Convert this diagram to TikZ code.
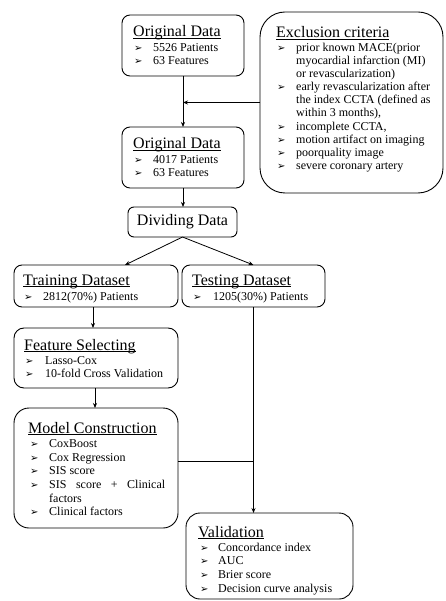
\documentclass[tikz,border=0pt]{standalone}
\usepackage{fontspec}
\setmainfont{Liberation Serif}
\newfontfamily\dvfont{DejaVu Sans}
\usetikzlibrary{arrows.meta}
\newlength\ulw
\newcommand\ulx[1]{\settowidth\ulw{#1}\rlap{\rule[-2pt]{\ulw}{0.7pt}}#1}
\newcommand\bul{{\dvfont\fontsize{10}{10}\selectfont ➢}}
% box: name, x1, y1, x2, y2, radius
\newcommand\mkbox[6]{\node[box, rounded corners=#6pt, minimum width={(#4-#2)*1pt}, minimum height={(#5-#3)*1pt}] (#1) at ({(#2+#4)/2},{(#3+#5)/2}) {};}
% title: name, x, baseline, text
\newcommand\mkttl[4]{\node[ttl] (#1) at (#2,#3) {\ulx{#4}};}
% item: name, bullet x, text x, baseline, text
\newcommand\mkitm[5]{\node[itm] (#1) at (#2,#4) {\makebox[\dimexpr#3pt-#2pt\relax][l]{\bul}#5};}
% continuation: name, x, baseline, text
\newcommand\mkcont[4]{\node[itm] (#1) at (#2,#3) {#4};}
\begin{document}
\begin{tikzpicture}[x=1pt,y=-1pt,
  box/.style={draw, line width=0.9pt, inner sep=0pt, outer sep=0pt},
  ttl/.style={anchor=base west, inner sep=0pt, font=\fontsize{16}{18}\selectfont},
  itm/.style={anchor=base west, inner sep=0pt, font=\fontsize{12}{13}\selectfont},
  arr/.style={line width=0.8pt, -{Stealth[length=5pt,width=4pt]}},
  ln/.style={line width=0.8pt}]
\useasboundingbox (0,0) rectangle (446,601);

% Original data 1
\mkbox{b1}{122}{15}{244}{76}{8}
\mkttl{b1t}{133}{37}{Original Data}
\mkitm{b1a}{134}{153}{52}{5526 Patients}
\mkitm{b1b}{134}{153}{65}{63 Features}

% Exclusion criteria
\mkbox{ex}{260}{12}{443}{193}{25}
\mkttl{ext}{276}{38}{Exclusion criteria}
\mkitm{exa}{277}{296}{52}{prior known MACE(prior}
\mkcont{exa2}{296}{65}{myocardial infarction (MI)}
\mkcont{exa3}{296}{78}{or revascularization)}
\mkitm{exb}{277}{296}{91}{early revascularization after}
\mkcont{exb2}{296}{104}{the index CCTA (defined as}
\mkcont{exb3}{296}{117}{within 3 months),}
\mkitm{exc}{277}{296}{131}{incomplete CCTA,}
\mkitm{exd}{277}{296}{144}{motion artifact on imaging}
\mkitm{exe}{277}{296}{157}{poorquality image}
\mkitm{exf}{277}{296}{170}{severe coronary artery}

% Original data 2
\mkbox{b2}{122}{127}{244}{188}{8}
\mkttl{b2t}{133}{149}{Original Data}
\mkitm{b2a}{134}{153}{164}{4017 Patients}
\mkitm{b2b}{134}{153}{177}{63 Features}

% Dividing data
\node[box, rounded corners=6pt, minimum width=109pt, minimum height=30pt,
      font=\fontsize{16}{18}\selectfont] (dv) at (182.5,222) {Dividing Data};

% Training
\mkbox{tr}{14}{265}{178}{307}{8}
\mkttl{trt}{23}{285}{Training Dataset}
\mkitm{tra}{24}{43}{300}{2812(70\%) Patients}

% Testing
\mkbox{te}{182}{265}{325}{307}{8}
\mkttl{tet}{192}{285}{Testing Dataset}
\mkitm{tea}{193}{213}{300}{1205(30\%) Patients}

% Feature selecting
\mkbox{fs}{14}{328}{178}{388}{10}
\mkttl{fst}{24}{350}{Feature Selecting}
\mkitm{fsa}{25}{45}{364}{Lasso-Cox}
\mkitm{fsb}{25}{45}{377}{10-fold Cross Validation}

% Model construction
\mkbox{mc}{14}{408}{178}{528}{15}
\mkttl{mct}{28}{433}{Model Construction}
\mkitm{mca}{30}{49}{447}{CoxBoost}
\mkitm{mcb}{30}{49}{461}{Cox Regression}
\mkitm{mcc}{30}{49}{474}{SIS score}
\mkitm{mcd}{30}{49}{488}{\makebox[116pt][s]{SIS\hfill score\hfill +\hfill Clinical}}
\mkcont{mcd2}{49}{502}{factors}
\mkitm{mce}{30}{49}{515}{Clinical factors}

% Validation
\mkbox{va}{186}{513}{353}{599}{14}
\mkttl{vat}{198}{537}{Validation}
\mkitm{vaa}{200}{218}{551}{Concordance index}
\mkitm{vab}{200}{218}{564}{AUC}
\mkitm{vac}{200}{218}{578}{Brier score}
\mkitm{vad}{200}{218}{592}{Decision curve analysis}

% connectors
\draw[arr] (b1.south) -- (b2.north);
\draw[arr] (ex.west) -- (ex.west -| b1.south);
\draw[arr] (b2.south) -- (b2.south |- dv.north);
\draw[arr] (dv.south) -- ([xshift=29pt]tr.north);
\draw[arr] (dv.south) -- (te.north);
\draw[arr] ([xshift=-3pt]tr.south) -- ([xshift=-3pt]fs.south |- fs.north);
\draw[arr] ([xshift=-1pt]fs.south) -- ([xshift=-1pt]mc.north);
\draw[arr] (te.south) -- (te.south |- va.north);
\draw[ln] ([yshift=7pt]mc.east) -- ([yshift=7pt]mc.east -| te.south);
\end{tikzpicture}
\end{document}
